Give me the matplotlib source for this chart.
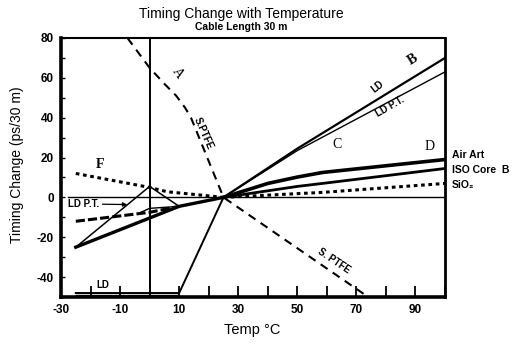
import matplotlib
matplotlib.use("Agg")
import matplotlib.pyplot as plt

plt.rcParams["font.family"] = ["Liberation Sans", "DejaVu Sans"]
plt.rcParams["axes.unicode_minus"] = False

# --- data (temp in deg C, timing change in ps/30 m) ---
ptfe_x = [-7.5, 0, 5, 9, 12, 14, 25, 74]
ptfe_y = [80, 65, 57, 51, 45, 40, 0, -50]

ld_x = [25, 50, 100]
ld_y = [0, 24.5, 70]
ldpt_x = [25, 50, 100]
ldpt_y = [0, 23.5, 63]

air_x = [25, 40, 50, 58.5, 100]
air_y = [0, 7, 10.2, 12.5, 19]
iso_x = [25, 50, 58.5, 100]
iso_y = [0, 5.5, 7, 14.5]
sio2_x = [25, 45, 58.5, 100]
sio2_y = [0, 1.5, 2.5, 7]

f_x = [-25, 0, 6, 13, 25]
f_y = [12, 5, 2.8, 1.8, 0]

# low-temperature branches of LD P.T. / LD
ldpt_low_x = [-25, 0, 10, 25]
ldpt_low_y = [-25, 5.5, -4.5, 0]
thick_low_x = [-25, 10, 25]
thick_low_y = [-25, -4.5, 0]
dash_low_x = [-25, 0, 10]
dash_low_y = [-12, -7.5, -4.5]
lens_x = [-3, 0, 10]
lens_y = [-7.5, -5.5, -4.5]

ld_low_x = [-25, 10, 25]
ld_low_y = [-48, -48, 0]
ld_low2_x = [-25, 10]
ld_low2_y = [-49.2, -49.2]

zero_x = [-27.5, 100]
zero_y = [0, 0]

fig = plt.figure(figsize=(5.14, 3.47), dpi=100)
ax = fig.add_axes([0.1187, 0.1441, 0.7471, 0.7464])

ax.set_xlim(-30, 100)
ax.set_ylim(-50, 80)

# reference lines
ax.plot(zero_x, zero_y, color="black", lw=1.0)
ax.axvline(0, color="black", lw=1.4)

# curves
ax.plot(ptfe_x, ptfe_y, color="black", lw=1.5, dashes=(4, 3))
ax.plot(ld_x, ld_y, color="black", lw=1.6)
ax.plot(ldpt_x, ldpt_y, color="black", lw=1.0)
ax.plot(air_x, air_y, color="black", lw=2.6)
ax.plot(iso_x, iso_y, color="black", lw=2.0)
ax.plot(sio2_x, sio2_y, color="black", lw=2.2, dashes=(1.2, 1.2))
ax.plot(f_x, f_y, color="black", lw=2.2, dashes=(1.2, 1.2))

ax.plot(ldpt_low_x, ldpt_low_y, color="black", lw=1.1)
ax.plot(thick_low_x, thick_low_y, color="black", lw=2.4)
ax.plot(dash_low_x, dash_low_y, color="black", lw=2.2, dashes=(3, 1))
ax.plot(lens_x, lens_y, color="black", lw=1.0)
ax.plot(ld_low_x, ld_low_y, color="black", lw=1.4)
ax.plot(ld_low2_x, ld_low2_y, color="black", lw=1.0)

# axes styling
for side, w in [("left", 2.6), ("bottom", 2.6), ("right", 2.0), ("top", 1.5)]:
    ax.spines[side].set_linewidth(w)

ax.set_xticks(range(-30, 91, 20))
ax.set_xticks(range(-20, 101, 20), minor=True)
ax.set_yticks(range(-40, 81, 20))
ax.set_yticks(range(-50, 71, 20), minor=True)
ax.tick_params(axis="x", which="both", direction="in", length=8, width=1.3, pad=5,
               labelsize=8.5)
ax.tick_params(axis="y", which="both", direction="in", length=3, width=1.0, pad=5,
               labelsize=8.5)
for lab in ax.get_xticklabels() + ax.get_yticklabels():
    lab.set_fontweight("bold")

# titles and axis labels
fig.text(0.469, 0.960, "Timing Change with Temperature", ha="center", va="center",
         fontsize=10)
fig.text(0.469, 0.922, "Cable Length 30 m", ha="center", va="center",
         fontsize=7.5, fontweight="bold")
fig.text(0.033, 0.524, "Timing Change (ps/30 m)", rotation=90, ha="center",
         va="center", fontsize=10)
fig.text(0.490, 0.049, "Temp \u00b0C", ha="center", va="center", fontsize=10.5)

# right-hand labels
fig.text(0.879, 0.553, "Air Art", ha="left", va="center", fontsize=7.5, fontweight="bold")
fig.text(0.879, 0.510, "ISO Core  B", ha="left", va="center", fontsize=7.5,
         fontweight="bold")
fig.text(0.879, 0.467, "SiO\u2082", ha="left", va="center", fontsize=7.5, fontweight="bold")

# in-plot annotations
serif = ["Liberation Serif", "DejaVu Serif"]
ax.text(9.3, 62.6, "A", family=serif, fontsize=10, rotation=-55, ha="center", va="center")
ax.text(89.2, 69.1, "B", family=serif, fontsize=10, fontweight="bold", rotation=32,
        ha="center", va="center")
ax.text(63.4, 26.4, "C", family=serif, fontsize=10, ha="center", va="center")
ax.text(94.6, 25.4, "D", family=serif, fontsize=10, ha="center", va="center")
ax.text(-16.8, 16.3, "F", family=serif, fontsize=10, fontweight="bold", ha="center",
        va="center")

ax.text(77.3, 55.5, "LD", fontsize=7, fontweight="bold", rotation=38, ha="center",
        va="center")
ax.text(81.4, 45.5, "LD P.T.", fontsize=7, fontweight="bold", rotation=30, ha="center",
        va="center")
ax.text(18.1, 31.9, "S.PTFE", fontsize=7, fontweight="bold", rotation=-66, ha="center",
        va="center")
ax.text(62.4, -31.9, "S. PTFE", fontsize=7, fontweight="bold", rotation=-34, ha="center",
        va="center")
ax.text(-15.8, -44, "LD", fontsize=7, fontweight="bold", ha="center", va="center")
ax.annotate("LD P.T.", xy=(-7.6, -3.6), xytext=(-27.5, -3.3), fontsize=7,
            fontweight="bold", ha="left", va="center",
            arrowprops=dict(arrowstyle="-|>", color="black", lw=0.9,
                            shrinkA=0, shrinkB=0, mutation_scale=6))

fig.savefig("out.png", dpi=100)
